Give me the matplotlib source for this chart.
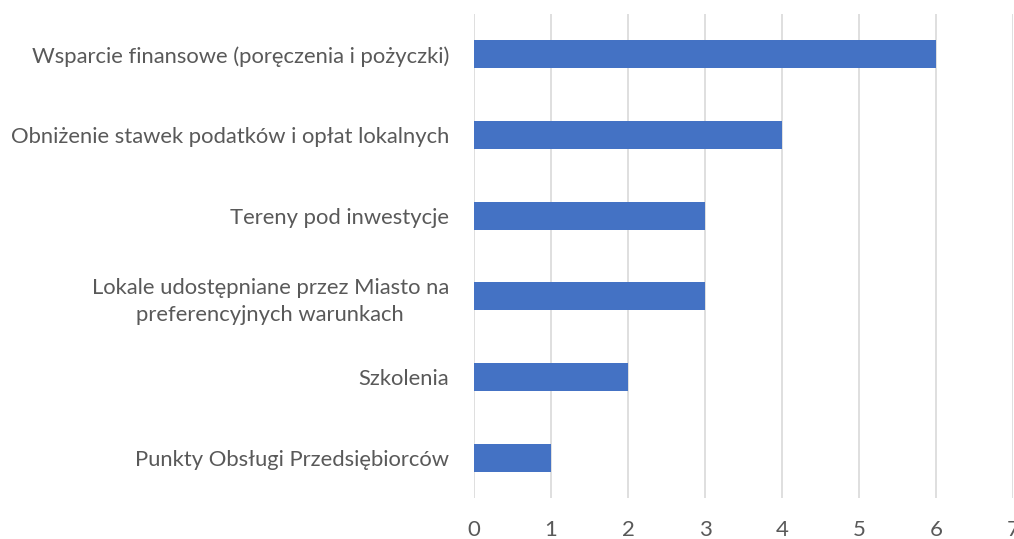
import matplotlib.pyplot as plt

plt.rcParams["font.family"] = ["Lato", "DejaVu Sans"]

categories = [
    "Wsparcie finansowe (poręczenia i pożyczki)",
    "Obniżenie stawek podatków i opłat lokalnych",
    "Tereny pod inwestycje",
    "Lokale udostępniane przez Miasto na\npreferencyjnych warunkach",
    "Szkolenia",
    "Punkty Obsługi Przedsiębiorców",
]
values = [6, 4, 3, 3, 2, 1]
x_ticks = [0, 1, 2, 3, 4, 5, 6, 7]

BAR_COLOR = "#4472C4"
GRID_COLOR = "#D9D9D9"
TEXT_COLOR = "#595959"

fig = plt.figure(figsize=(10.14, 5.39), dpi=100)
ax = fig.add_axes([474 / 1014, 1 - 498 / 539, 539 / 1014, 484 / 539])

pos = list(range(len(categories)))[::-1]
ax.barh(pos, values, height=0.35, color=BAR_COLOR, zorder=3)

ax.set_xlim(0, 7)
ax.set_ylim(-0.5, len(categories) - 0.5)
ax.set_xticks(x_ticks)
ax.set_yticks(pos)
ax.set_yticklabels(categories, ha="right", multialignment="center", linespacing=1.4)
ax.tick_params(axis="x", length=0, pad=16, labelsize=16, labelcolor=TEXT_COLOR)
ax.tick_params(axis="y", length=0, pad=18, labelsize=15.8, labelcolor=TEXT_COLOR)

ax.grid(axis="x", color=GRID_COLOR, linewidth=1.2, zorder=0)
for side in ["top", "right", "bottom", "left"]:
    ax.spines[side].set_visible(False)

fig.savefig("out.png", dpi=100)
